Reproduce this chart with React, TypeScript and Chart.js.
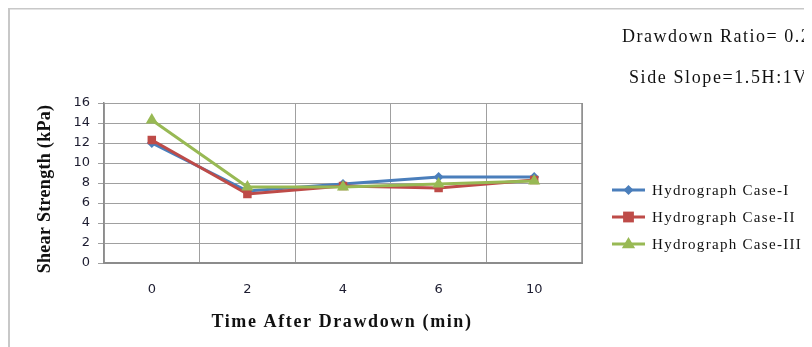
import { useEffect, useRef } from "react";
import { Chart, registerables } from "chart.js";

Chart.register(...registerables);

// Shear strength after drawdown, three hydrograph cases
const timeLabels = ["0", "2", "4", "6", "10"];
const caseI = [12.0, 7.2, 7.9, 8.6, 8.6];
const caseII = [12.3, 6.9, 7.7, 7.5, 8.3];
const caseIII = [14.3, 7.6, 7.6, 7.9, 8.2];
const seriesNames = ["Hydrograph Case-I", "Hydrograph Case-II", "Hydrograph Case-III"];
const seriesColors = ["#4a7ebb", "#be4b48", "#98b954"];
const seriesMarkers = ["rectRot", "rect", "triangle"];
const seriesRadius = [5, 6, 7];
const notes = ["Drawdown Ratio= 0.2", "Side Slope=1.5H:1V"];
const xTitle = "Time After Drawdown (min)";
const yTitle = "Shear Strength (kPa)";
const yMin = 0;
const yMax = 16;
const yStep = 2;

const SERIF = '"Liberation Serif", "Times New Roman", serif';
const TICK_FONT = '"DejaVu Sans", Verdana, sans-serif';

function drawMarker(ctx: CanvasRenderingContext2D, style: string, x: number, y: number, r: number, color: string) {
  ctx.save();
  ctx.fillStyle = color;
  ctx.beginPath();
  if (style === "rectRot") {
    ctx.moveTo(x, y - r);
    ctx.lineTo(x + r, y);
    ctx.lineTo(x, y + r);
    ctx.lineTo(x - r, y);
  } else if (style === "rect") {
    const s = r * 0.9;
    ctx.rect(x - s, y - s, s * 2, s * 2);
  } else {
    ctx.moveTo(x, y - r);
    ctx.lineTo(x + r * 0.95, y + r * 0.6);
    ctx.lineTo(x - r * 0.95, y + r * 0.6);
  }
  ctx.closePath();
  ctx.fill();
  ctx.restore();
}

const decorations = {
  id: "decorations",
  afterDraw(chart: any) {
    const ctx: CanvasRenderingContext2D = chart.ctx;
    const area = chart.chartArea;
    ctx.save();

    // outer frame (top and left edges)
    ctx.strokeStyle = "#c8c8c8";
    ctx.lineWidth = 2;
    ctx.beginPath();
    ctx.moveTo(1, chart.height);
    ctx.lineTo(1, 0.5);
    ctx.lineTo(chart.width, 0.5);
    ctx.stroke();

    // notes
    ctx.fillStyle = "#111";
    ctx.textBaseline = "middle";
    ctx.textAlign = "left";
    ctx.font = `18px ${SERIF}`;
    (ctx as any).letterSpacing = "1.5px";
    ctx.fillText(notes[0], 614, 29);
    (ctx as any).letterSpacing = "1.6px";
    ctx.fillText(notes[1], 621, 70);

    // legend
    ctx.font = `15px ${SERIF}`;
    (ctx as any).letterSpacing = "1.3px";
    chart.data.datasets.forEach((ds: any, i: number) => {
      const y = 182 + i * 27;
      ctx.strokeStyle = ds.borderColor;
      ctx.lineWidth = 3;
      ctx.beginPath();
      ctx.moveTo(604, y);
      ctx.lineTo(637, y);
      ctx.stroke();
      drawMarker(ctx, ds.pointStyle, 620.5, y, ds.pointRadius, ds.borderColor);
      ctx.fillStyle = "#111";
      ctx.fillText(ds.label, 644, y + 1);
    });

    // axis titles
    ctx.font = `bold 18px ${SERIF}`;
    ctx.textAlign = "center";
    (ctx as any).letterSpacing = "1.6px";
    ctx.fillText(xTitle, (area.left + area.right) / 2 - 1, 314);
    (ctx as any).letterSpacing = "0.3px";
    ctx.translate(37, (area.top + area.bottom) / 2 + 6);
    ctx.rotate(-Math.PI / 2);
    ctx.fillText(yTitle, 0, 0);
    ctx.restore();
  },
};

const plotFrame = {
  id: "plotFrame",
  beforeDatasetsDraw(c: any) {
    const a = c.chartArea;
    const ctx = c.ctx;
    ctx.save();
    ctx.strokeStyle = "#8c8c8c";
    ctx.lineWidth = 1.5;
    ctx.beginPath();
    ctx.moveTo(a.right, a.top);
    ctx.lineTo(a.right, a.bottom);
    ctx.stroke();
    ctx.restore();
  },
};

export default function App() {
  const canvasRef = useRef<HTMLCanvasElement | null>(null);

  useEffect(() => {
    document.body.style.overflow = "hidden";
    const canvas = canvasRef.current;
    if (!canvas) return;
    const values = [caseI, caseII, caseIII];
    const chart = new Chart(canvas, {
      type: "line",
      data: {
        labels: timeLabels,
        datasets: values.map((data, i) => ({
          label: seriesNames[i],
          data,
          borderColor: seriesColors[i],
          backgroundColor: seriesColors[i],
          pointBackgroundColor: seriesColors[i],
          pointBorderColor: seriesColors[i],
          pointStyle: seriesMarkers[i] as any,
          pointRadius: seriesRadius[i],
          pointBorderWidth: 0,
          borderWidth: 3,
          tension: 0,
          fill: false,
          order: 2 - i,
        })),
      },
      options: {
        responsive: false,
        animation: false,
        events: [],
        layout: { padding: { top: 95, right: 230, left: 0, bottom: 0 } },
        plugins: {
          legend: { display: false },
          tooltip: { enabled: false },
          title: { display: false },
        },
        scales: {
          x: {
            type: "category",
            offset: true,
            grid: {
              offset: true,
              color: "#a0a0a0",
              lineWidth: 1,
              drawTicks: false,
            },
            border: { color: "#8c8c8c", width: 2 },
            ticks: {
              color: "#1c1c30",
              font: { family: TICK_FONT, size: 13 },
              padding: 19,
              maxRotation: 0,
            },
            afterFit(scale: any) {
              scale.height = 84;
            },
          },
          y: {
            min: yMin,
            max: yMax,
            grid: {
              color: "#a0a0a0",
              lineWidth: 1,
              drawTicks: true,
              tickLength: 6,
            },
            border: { color: "#8c8c8c", width: 1.5 },
            ticks: {
              stepSize: yStep,
              color: "#1c1c30",
              font: { family: TICK_FONT, size: 13 },
              padding: 8,
            },
            afterFit(scale: any) {
              scale.width = 96;
            },
          },
        },
      },
      plugins: [decorations, plotFrame],
    });
    return () => chart.destroy();
  }, []);

  return (
    <div style={{ width: 804, height: 339 }}>
      <canvas ref={canvasRef} width={804} height={339} style={{ display: "block", width: 804, height: 339 }} />
    </div>
  );
}
